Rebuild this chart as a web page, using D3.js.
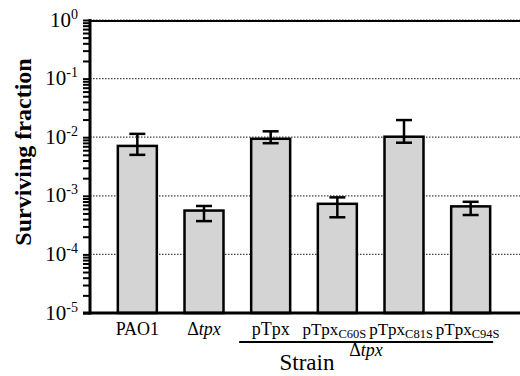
<!DOCTYPE html>
<html><head><meta charset="utf-8">
<script src="https://cdn.jsdelivr.net/npm/d3@7"></script>
<style>body{margin:0;background:#fff}svg{display:block}text{font-family:"Liberation Serif","Times New Roman",serif}</style>
</head><body><svg id="c" width="520" height="376"></svg>
<script>
const strains = ["PAO1","Δtpx","pTpx","pTpxC60S","pTpxC81S","pTpxC94S"];
const means = [0.0071, 0.00056, 0.0094, 0.00073, 0.0102, 0.00066];
const errHigh = [0.0114, 0.00067, 0.0126, 0.00094, 0.0196, 0.00079];
const errLow = [0.0050, 0.00037, 0.0079, 0.00043, 0.00805, 0.00047];
const decadeExps = [0,-1,-2,-3,-4,-5];

const svg = d3.select("#c");
const x0 = 90, x1 = 520, yTop = 20, yBot = 313;
const y = d3.scaleLog().domain([1e-5, 1]).range([yBot, yTop]);
const x = d3.scaleBand().domain(strains).range([104, 504]).paddingInner(0.415).paddingOuter(0.2075);

// gridlines
svg.append("g").selectAll("line").data(decadeExps.filter(e => e > -5)).join("line")
  .attr("x1", x0).attr("x2", x1).attr("y1", e => y(Math.pow(10,e))).attr("y2", e => y(Math.pow(10,e)))
  .attr("stroke", "#444").attr("stroke-width", 1.2).attr("stroke-dasharray", "1.5,1.5");
// top solid
svg.append("line").attr("x1", x0).attr("x2", x1).attr("y1", y(1)+1).attr("y2", y(1)+1)
  .attr("stroke", "#000").attr("stroke-width", 2);

// bars
svg.append("g").selectAll("rect").data(strains).join("rect")
  .attr("x", d => x(d)).attr("width", x.bandwidth())
  .attr("y", (d,i) => y(means[i])).attr("height", (d,i) => yBot - y(means[i]))
  .attr("fill", "#d4d4d4").attr("stroke", "#000").attr("stroke-width", 2.5);

// error bars
const eg = svg.append("g").attr("stroke", "#000").attr("stroke-width", 2.5);
strains.forEach((s,i) => {
  const cx = x(s) + x.bandwidth()/2;
  eg.append("line").attr("x1", cx).attr("x2", cx).attr("y1", y(errHigh[i])).attr("y2", y(errLow[i]));
  [errHigh[i], errLow[i]].forEach(v => eg.append("line").attr("x1", cx-8).attr("x2", cx+8).attr("y1", y(v)).attr("y2", y(v)));
});

// y axis ticks
const tickVals = [];
for (let e = -5; e < 0; e++) for (let m = 1; m < 10; m++) tickVals.push(m*Math.pow(10,e));
tickVals.push(1);
const ax = svg.append("g").attr("transform", `translate(${x0},0)`)
  .call(d3.axisLeft(y).tickValues(tickVals).tickFormat("").tickSize(7).tickSizeOuter(0));
ax.select(".domain").remove();
ax.selectAll(".tick line").attr("stroke", "#000").attr("stroke-width", 2);
svg.append("line").attr("x1", x0).attr("x2", x0).attr("y1", yTop - 1).attr("y2", yBot + 1.5)
  .attr("stroke", "#000").attr("stroke-width", 3);
// x axis
svg.append("line").attr("x1", x0 - 7).attr("x2", x1).attr("y1", yBot).attr("y2", yBot)
  .attr("stroke", "#000").attr("stroke-width", 3);

// y tick labels
const lab = svg.append("g").selectAll("text").data(decadeExps).join("text")
  .attr("x", 78).attr("y", e => y(Math.pow(10,e)) + 6.5).attr("text-anchor", "end").attr("font-size", 21);
lab.append("tspan").text("10");
lab.append("tspan").attr("font-size", 14).attr("dy", -8).text(e => String(e));

// y title
svg.append("text").attr("transform", `translate(31,152) rotate(-90)`)
  .attr("text-anchor", "middle").attr("font-size", 24).attr("font-weight", "bold").text("Surviving fraction");

// x labels
const xl = svg.append("g").attr("font-size", 18);
strains.forEach((s,i) => {
  const cx = x(s) + x.bandwidth()/2;
  const t = xl.append("text").attr("x", cx).attr("y", 335).attr("text-anchor", "middle");
  if (s === "Δtpx") { t.append("tspan").text("Δ"); t.append("tspan").attr("font-style","italic").text("tpx"); }
  else if (s.length > 4) {
    t.attr("font-size", 17).attr("x", cx - 3);
    t.append("tspan").text(s.slice(0,4));
    t.append("tspan").attr("font-size", 12.5).attr("dy", 3).text(s.slice(4));
  } else t.text(s);
});
// bracket line
svg.append("line").attr("x1", x(strains[2]) - 12).attr("x2", x(strains[5]) + x.bandwidth() + 3)
  .attr("y1", 342).attr("y2", 342).attr("stroke", "#000").attr("stroke-width", 2);
const dt = svg.append("text").attr("x", 366).attr("y", 356).attr("text-anchor", "middle").attr("font-size", 18);
dt.append("tspan").text("Δ"); dt.append("tspan").attr("font-style","italic").text("tpx");
svg.append("text").attr("x", 307).attr("y", 370).attr("text-anchor", "middle").attr("font-size", 23).text("Strain");
</script></body></html>
